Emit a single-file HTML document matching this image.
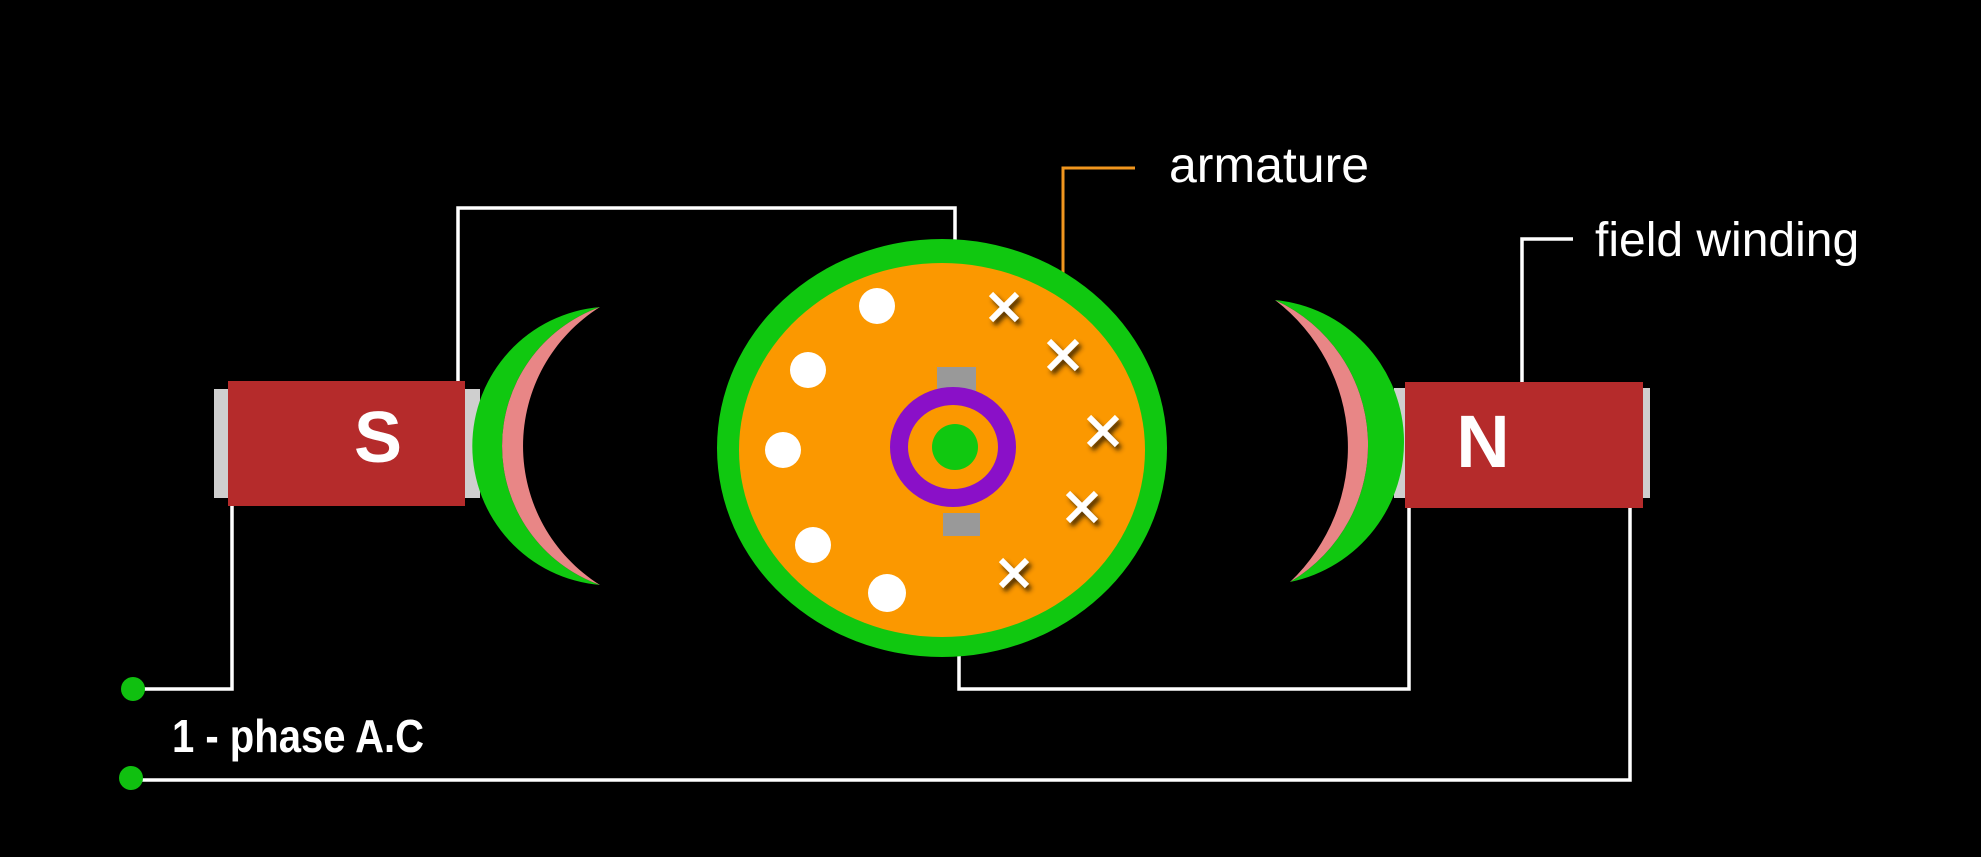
<!DOCTYPE html>
<html><head><meta charset="utf-8"><style>
html,body{margin:0;padding:0;background:#000;}
svg{display:block}
</style></head><body>
<svg width="1981" height="857" viewBox="0 0 1981 857" xmlns="http://www.w3.org/2000/svg">
<defs>
<filter id="sh" x="-50%" y="-50%" width="200%" height="200%"><feDropShadow dx="3" dy="4" stdDeviation="2.5" flood-color="#3a2000" flood-opacity="0.9"/></filter>
</defs>
<rect width="1981" height="857" fill="#000"/>
<g fill="none" stroke="#fff" stroke-width="3.5">
<polyline points="458,381 458,208 955,208 955,368"/>
<polyline points="959,535 959,689 1409,689 1409,508"/>
<polyline points="232,506 232,689 140,689"/>
<polyline points="136,780 1630,780 1630,508"/>
<polyline points="1522,382 1522,239 1573,239"/>
</g>
<polyline points="1063,293 1063,168 1135,168" fill="none" stroke="#f0961e" stroke-width="3"/>
<circle cx="133" cy="689" r="12" fill="#10c010"/>
<circle cx="131" cy="778" r="12" fill="#10c010"/>
<rect x="214" y="389" width="16" height="109" fill="#cfcfcf"/>
<rect x="462" y="389" width="18" height="109" fill="#cfcfcf"/>
<rect x="228" y="381" width="237" height="125" fill="#b52b2b"/>
<text x="378" y="462" font-family="Liberation Sans, sans-serif" font-weight="bold" font-size="72" fill="#fff" text-anchor="middle">S</text>
<rect x="1394" y="388" width="14" height="110" fill="#cfcfcf"/>
<rect x="1640" y="388" width="10" height="110" fill="#cfcfcf"/>
<rect x="1405" y="382" width="238" height="126" fill="#b52b2b"/>
<text x="1483" y="467" font-family="Liberation Sans, sans-serif" font-weight="bold" font-size="74" fill="#fff" text-anchor="middle">N</text>
<path d="M600,307 A139.5,139.5 0 0 0 600,585 A147.6,147.6 0 0 1 600,307Z" fill="#10c810"/>
<path d="M600,307 A147.6,147.6 0 0 0 600,585 A164,164 0 0 1 600,307Z" fill="#e88686"/>
<path d="M1275,300 A142.8,142.8 0 0 1 1290,582 A159.4,159.4 0 0 0 1275,300Z" fill="#10c810"/>
<path d="M1275,300 A159.4,159.4 0 0 1 1290,582 A185.4,185.4 0 0 0 1275,300Z" fill="#e88686"/>
<ellipse cx="942" cy="448" rx="225" ry="209" fill="#10c810"/>
<ellipse cx="942" cy="450" rx="203" ry="187" fill="#fb9800"/>
<g fill="#fff">
<circle cx="877" cy="306" r="18"/>
<circle cx="808" cy="370" r="18"/>
<circle cx="783" cy="450" r="18"/>
<circle cx="813" cy="545" r="18"/>
<circle cx="887" cy="593" r="19"/>
</g>
<g stroke="#fff" stroke-width="6" filter="url(#sh)">
<path d="M991,294 L1017,320 M1017,294 L991,320"/>
<path d="M1049,341 L1077,369 M1077,341 L1049,369"/>
<path d="M1089,417 L1117,445 M1117,417 L1089,445"/>
<path d="M1068,493 L1096,521 M1096,493 L1068,521"/>
<path d="M1001,560 L1027,586 M1027,560 L1001,586"/>
</g>
<rect x="937" y="367" width="39" height="27" fill="#999"/>
<rect x="943" y="513" width="37" height="23" fill="#999"/>
<ellipse cx="953" cy="447" rx="54" ry="51" fill="none" stroke="#8a10c8" stroke-width="18"/>
<circle cx="955" cy="447" r="23" fill="#10c810"/>
<text x="1169" y="182" font-family="Liberation Sans, sans-serif" font-size="50" fill="#fff">armature</text>
<text x="1595" y="256" font-family="Liberation Sans, sans-serif" font-size="48" fill="#fff">field winding</text>
<text x="172" y="752" font-family="Liberation Sans, sans-serif" font-weight="bold" font-size="46" fill="#fff" transform="translate(172,0) scale(0.87,1) translate(-172,0)">1 - phase A.C</text>
</svg>
</body></html>
